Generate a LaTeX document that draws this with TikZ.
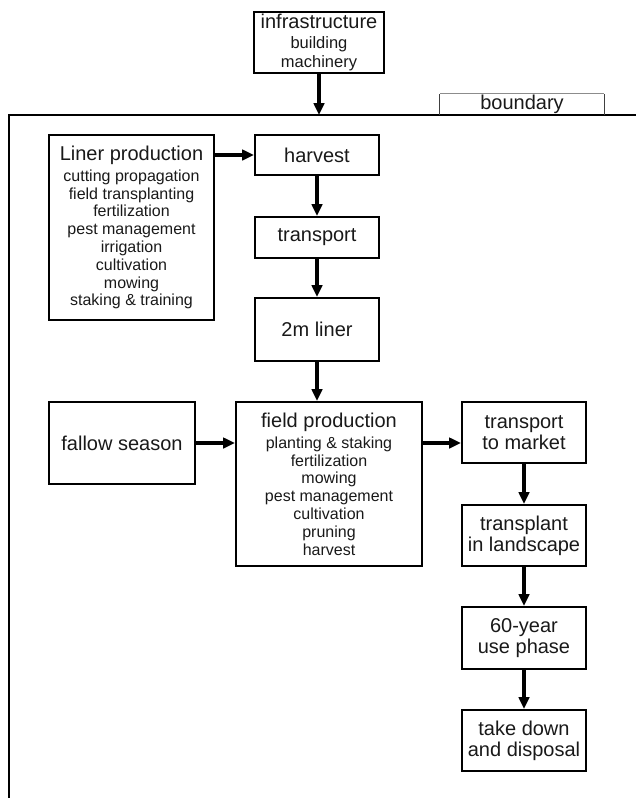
\documentclass[tikz,border=0pt]{standalone}
\usepackage{fontspec}
\setmainfont{Liberation Sans}
\usetikzlibrary{arrows.meta}
\newcommand\hdfont{\fontsize{20}{21}\selectfont}
\newcommand\itfont{\fontsize{16}{17.8}\selectfont}
\newcommand\infitfont{\fontsize{16.5}{19}\selectfont}
\begin{document}
\begin{tikzpicture}[x=1pt,y=-1pt,
  box/.style={draw, line width=2pt, rectangle, inner sep=0pt, align=center, text=black!90},
  arr/.style={line width=3.6pt, -{Triangle[length=12pt,width=10.5pt]}},
  bline/.style={line width=2.2pt, line cap=rect},
]
\useasboundingbox (0,0) rectangle (636,798);
% boundary
\coordinate (bTR) at (636,115);
\coordinate (bTL) at (9,115);
\coordinate (bBL) at (9,798);
\draw[bline] (bTR) -- (bTL) -- (bBL);
\node[inner sep=0pt, minimum width=164pt, minimum height=21pt, font=\hdfont, text=black!90] (blab) at (522,104.5) {boundary};
\draw[line width=1pt, black!45] (blab.north west) -- (blab.north east);
\draw[line width=1pt, black!75] (blab.south west) -- (blab.north west);
\draw[line width=1pt, black!75] (blab.south east) -- (blab.north east);

% nodes
\node[box, minimum width=130pt, minimum height=61pt, font=\infitfont] (infra) at (319,42.5)
  {{\hdfont infrastructure}\\[1pt]building\\machinery};
\coordinate (infraend) at (319,115);
\node[box, minimum width=165pt, minimum height=185pt, font=\itfont] (liner) at (131.5,227.5)
  {{\hdfont Liner production}\\[3.2pt]cutting propagation\\field transplanting\\fertilization\\pest management\\irrigation\\cultivation\\mowing\\staking \& training};
\node[box, minimum width=124pt, minimum height=40pt, font=\hdfont] (harvest) at (317,155) {harvest};
\node[box, minimum width=124pt, minimum height=41pt, font=\hdfont] (transport) at (317,237.5) {transport};
\node[box, minimum width=124pt, minimum height=63pt, font=\hdfont] (liner2m) at (317,329.5) {2m liner};
\node[box, minimum width=146pt, minimum height=82pt, font=\hdfont] (fallow) at (122,443) {fallow season};
\node[box, minimum width=186pt, minimum height=164pt, font=\itfont] (field) at (329,484)
  {{\hdfont field production}\\[3.2pt]planting \& staking\\fertilization\\mowing\\pest management\\cultivation\\pruning\\harvest};
\node[box, minimum width=124pt, minimum height=61pt, font=\hdfont] (market) at (524,432.5) {transport\\to market};
\node[box, minimum width=124pt, minimum height=61pt, font=\hdfont] (transplant) at (524,535.5) {transplant\\in landscape};
\node[box, minimum width=124pt, minimum height=62pt, font=\hdfont] (use) at (524,638) {60-year\\use phase};
\node[box, minimum width=124pt, minimum height=61pt, font=\hdfont] (takedown) at (524,740.5) {take down\\and disposal};

% connectors
\draw[arr] (infra.south) -- (infraend);
\draw[arr] (liner.east |- harvest.west) -- (harvest.west);
\draw[arr] (harvest.south) -- (transport.north);
\draw[arr] (transport.south) -- (liner2m.north);
\draw[arr] (liner2m.south) -- (liner2m.south |- field.north);
\draw[arr] (fallow.east) -- (field.west |- fallow.east);
\draw[arr] (field.east |- fallow.east) -- (market.west |- fallow.east);
\draw[arr] (market.south) -- (transplant.north);
\draw[arr] (transplant.south) -- (use.north);
\draw[arr] (use.south) -- (takedown.north);
\end{tikzpicture}
\end{document}
